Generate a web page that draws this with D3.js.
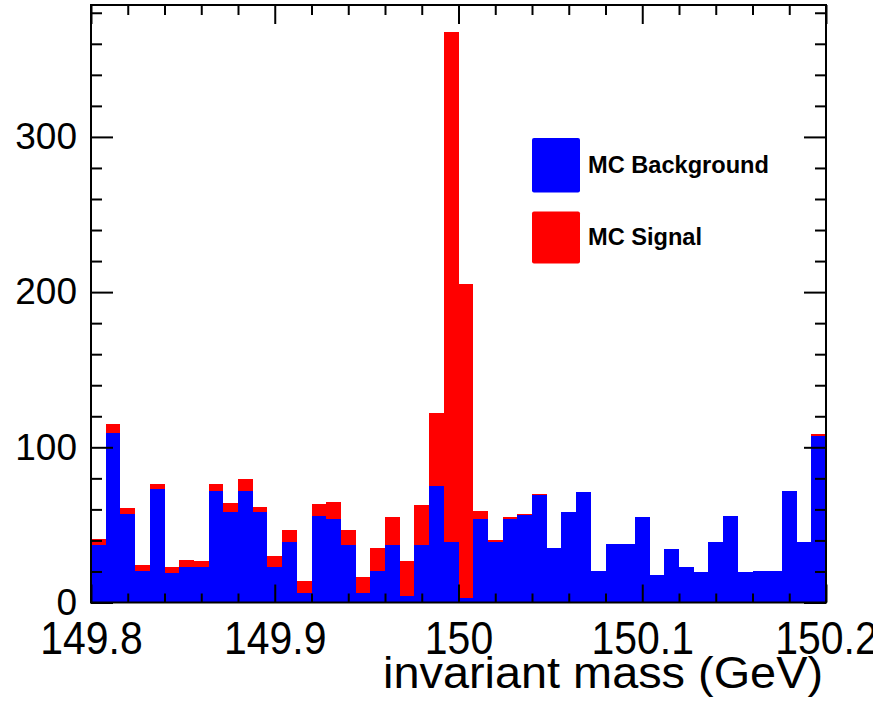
<!DOCTYPE html>
<html>
<head>
<meta charset="utf-8">
<script src="https://cdn.jsdelivr.net/npm/d3@7"></script>
<style>
  html, body { margin: 0; padding: 0; background: #fff; }
  svg { display: block; }
  text { font-family: "Liberation Sans", Arial, sans-serif; fill: #000; }
</style>
</head>
<body>
<svg id="chart" width="873" height="707"></svg>
<script>
// ---- data ----
const binLow = 149.8;
const binWidth = 0.008;
const seriesNames = ["MC Background", "MC Signal"];
const seriesColors = ["#0000ff", "#ff0000"];
const background = [37, 109, 57, 20, 73, 19, 23, 23, 72, 58,
                    72, 58, 23, 39, 6, 56, 54, 37, 6, 20,
                    37, 4, 37, 75, 39, 3, 54, 39, 54, 56.5,
                    69, 35, 58, 71, 20, 37.5, 37.5, 55, 17.5, 34.5,
                    23, 19.5, 39, 56, 19.5, 20, 20, 72, 39, 107.5];
const signal = [4, 6, 4, 4, 3.5, 4, 4.5, 4, 4.5, 6,
                7.5, 3.5, 7, 7.5, 8, 7.5, 11, 10, 10.5, 15,
                18, 23, 26, 47, 328.5, 202, 5, 1.3, 1, 0.3,
                0.7, 0, 0.6, 0, 0.6, 0, 0, 0, 0, 0,
                0, 0, 0, 0, 0, 0, 0.4, 0, 0, 0.8];
const xMajorTicks = [149.8, 149.9, 150.0, 150.1, 150.2];
const xTickLabels = ["149.8", "149.9", "150", "150.1", "150.2"];
const yMajorTicks = [0, 100, 200, 300];
const xTitle = "invariant mass (GeV)";

// ---- layout ----
const L = 91, R = 826, T = 5, B = 602.5;
const svg = d3.select("#chart");
const x = d3.scaleLinear().domain([149.8, 150.2]).range([L, R]);
const y = d3.scaleLinear().domain([0, 385]).range([B, T]);

const rows = background.map((b, i) => ({ lo: binLow + i * binWidth, bg: b, sig: signal[i] }));
const stack = d3.stack().keys(["bg", "sig"]);
const layers = stack(rows);

svg.append("g").selectAll("g").data(layers).join("g")
  .attr("fill", (d, i) => seriesColors[i])
  .selectAll("rect").data(d => d).join("rect")
  .attr("shape-rendering", "crispEdges")
  .attr("x", d => x(d.data.lo))
  .attr("width", d => x(d.data.lo + binWidth) - x(d.data.lo))
  .attr("y", d => y(d[1]))
  .attr("height", d => Math.max(0, y(d[0]) - y(d[1])));

// ---- axes (ticks pointing inward) ----
const xMinor = d3.range(0, 21).map(i => 149.8 + i * 0.02).filter(v => !xMajorTicks.some(m => Math.abs(m - v) < 1e-9));
const yMinor = d3.range(0, 20).map(i => i * 20).filter(v => v % 100 !== 0 && v <= 385);

function styleAxis(g) {
  g.select(".domain").remove();
  g.selectAll("line").attr("stroke", "#000").attr("stroke-width", 2);
}

// bottom
const gb = svg.append("g").attr("transform", `translate(0,${B})`)
  .call(d3.axisBottom(x).tickValues(xMajorTicks).tickSize(-18).tickPadding(19)
        .tickFormat((d, i) => xTickLabels[i]));
styleAxis(gb);
gb.selectAll("text").attr("font-size", 46).attr("font-family", "Liberation Sans, Arial, sans-serif")
  .attr("transform", "scale(0.89,1)");
svg.append("g").attr("transform", `translate(0,${B})`)
  .call(d3.axisBottom(x).tickValues(xMinor).tickSize(-9).tickFormat("")).call(styleAxis);

// top
svg.append("g").attr("transform", `translate(0,${T})`)
  .call(d3.axisTop(x).tickValues(xMajorTicks).tickSize(-19).tickFormat("")).call(styleAxis);
svg.append("g").attr("transform", `translate(0,${T})`)
  .call(d3.axisTop(x).tickValues(xMinor).tickSize(-10).tickFormat("")).call(styleAxis);

// left
const gl = svg.append("g").attr("transform", `translate(${L},0)`)
  .call(d3.axisLeft(y).tickValues(yMajorTicks).tickSize(-22).tickPadding(14).tickFormat(d3.format("d")));
styleAxis(gl);
gl.selectAll("text").attr("font-size", 37).attr("font-family", "Liberation Sans, Arial, sans-serif");
svg.append("g").attr("transform", `translate(${L},0)`)
  .call(d3.axisLeft(y).tickValues(yMinor).tickSize(-11).tickFormat("")).call(styleAxis);

// right
svg.append("g").attr("transform", `translate(${R},0)`)
  .call(d3.axisRight(y).tickValues(yMajorTicks).tickSize(-22).tickFormat("")).call(styleAxis);
svg.append("g").attr("transform", `translate(${R},0)`)
  .call(d3.axisRight(y).tickValues(yMinor).tickSize(-11).tickFormat("")).call(styleAxis);

// frame
svg.append("rect").attr("x", L).attr("y", T).attr("width", R - L).attr("height", B - T)
  .attr("fill", "none").attr("stroke", "#000").attr("stroke-width", 2);

// axis title
svg.append("text").attr("x", 823).attr("y", 688).attr("text-anchor", "end")
  .attr("font-size", 45).attr("textLength", 440).attr("lengthAdjust", "spacingAndGlyphs")
  .text(xTitle);

// legend
const leg = svg.append("g").selectAll("g").data(seriesNames).join("g")
  .attr("transform", (d, i) => `translate(532,${i === 0 ? 138 : 211.5})`);
leg.append("rect").attr("width", 48).attr("height", d => d === seriesNames[0] ? 54.5 : 52)
  .attr("rx", 2).attr("fill", (d, i) => seriesColors[i]);
leg.append("text").attr("x", 56).attr("y", (d, i) => i === 0 ? 35 : 33.5)
  .attr("font-size", 23.6).attr("font-weight", "bold").text(d => d);
</script>
</body>
</html>
